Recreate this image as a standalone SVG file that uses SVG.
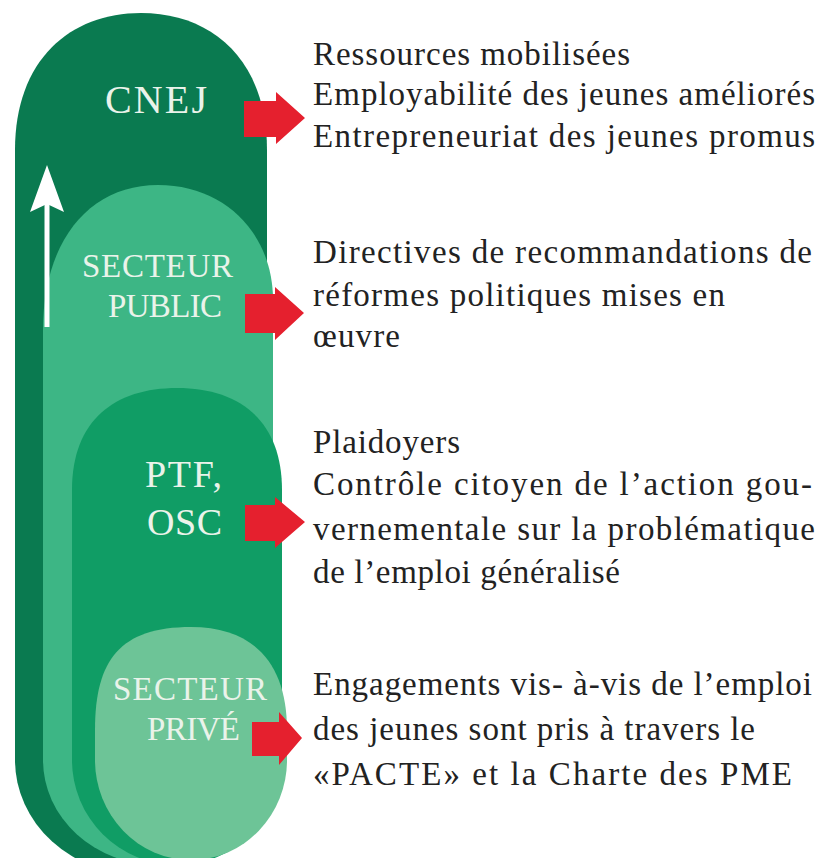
<svg xmlns="http://www.w3.org/2000/svg" width="820" height="858" viewBox="0 0 820 858">
<defs>
<style>
.lbl{font-family:'Liberation Serif', serif;fill:#eaf3ea}
.txt{font-family:'Liberation Serif', serif;font-size:33px;fill:#222}
.red{fill:#e5202e}
</style>
</defs>
<rect width="820" height="858" fill="#ffffff"/>
<g id="cnej">
<path d="M15,150 C15,60 70,13 141,13 C212,13 267,60 267,150 L267,760 A126,115 0 0 1 15,760 Z" fill="#0a7a50"/>
<text class="lbl" x="105" y="113" font-size="40" textLength="102" lengthAdjust="spacing">CNEJ</text>
</g>
<g id="secteur-public">
<path d="M43,330 C43,240 90,185 158,185 C226,185 273,235 273,300 L273,760 A115,105 0 0 1 43,760 Z" fill="#3db685"/>
<text class="lbl" x="82" y="277" font-size="33" textLength="151" lengthAdjust="spacing">SECTEUR</text>
<text class="lbl" x="108" y="317" font-size="33" textLength="114" lengthAdjust="spacing">PUBLIC</text>
</g>
<g id="ptf-osc">
<path d="M72,490 C72,420 115,388 177,388 C239,388 282,420 282,490 L282,760 A105,105 0 0 1 72,760 Z" fill="#109d65"/>
<text class="lbl" x="145" y="487" font-size="38" textLength="77" lengthAdjust="spacing">PTF,</text>
<text class="lbl" x="147" y="535" font-size="38" textLength="75" lengthAdjust="spacing">OSC</text>
</g>
<g id="secteur-prive">
<path d="M95,730 C95,660 120,627 191,627 C255,627 287,665 287,730 L287,760 A96,100 0 0 1 95,760 Z" fill="#6dc497"/>
<text class="lbl" x="113" y="700" font-size="33" textLength="154" lengthAdjust="spacing">SECTEUR</text>
<text class="lbl" x="147" y="740" font-size="33" textLength="93" lengthAdjust="spacing">PRIVÉ</text>
</g>
<g id="connectors">
<line x1="47" y1="200" x2="47" y2="327" stroke="#ffffff" stroke-width="5"/>
<polygon points="47,165 64,212 47,204 30,212" fill="#ffffff"/>
<polygon class="red" points="244,101 276,101 276,92 305,118 276,144 276,137 244,137"/>
<polygon class="red" points="245,294 275,294 275,287 304,313 275,340 275,333 245,333"/>
<polygon class="red" points="245,505 275,505 275,497 305,522 275,548 275,541 245,541"/>
<polygon class="red" points="252,722 279,722 279,712 302,738 279,765 279,756 252,756"/>
</g>
<g id="outcomes-cnej">
<text class="txt" x="313" y="65" textLength="317" lengthAdjust="spacing">Ressources mobilisées</text>
<text class="txt" x="313" y="105" textLength="502" lengthAdjust="spacing">Employabilité des jeunes améliorés</text>
<text class="txt" x="313" y="147" textLength="502" lengthAdjust="spacing">Entrepreneuriat des jeunes promus</text>
</g>
<g id="outcomes-public">
<text class="txt" x="313" y="263" textLength="499" lengthAdjust="spacing">Directives de recommandations de</text>
<text class="txt" x="313" y="306" textLength="412" lengthAdjust="spacing">réformes politiques mises en</text>
<text class="txt" x="313" y="347" textLength="87" lengthAdjust="spacing">œuvre</text>
</g>
<g id="outcomes-ptf">
<text class="txt" x="313" y="453" textLength="147" lengthAdjust="spacing">Plaidoyers</text>
<text class="txt" x="313" y="495" textLength="499" lengthAdjust="spacing">Contrôle citoyen de l’action gou-</text>
<text class="txt" x="313" y="540" textLength="502" lengthAdjust="spacing">vernementale sur la problématique</text>
<text class="txt" x="313" y="583" textLength="307" lengthAdjust="spacing">de l’emploi généralisé</text>
</g>
<g id="outcomes-prive">
<text class="txt" x="313" y="695" textLength="499" lengthAdjust="spacing">Engagements vis- à-vis de l’emploi</text>
<text class="txt" x="313" y="740" textLength="442" lengthAdjust="spacing">des jeunes sont pris à travers le</text>
<text class="txt" x="313" y="785" textLength="479" lengthAdjust="spacing">«PACTE» et la Charte des PME</text>
</g>
</svg>
